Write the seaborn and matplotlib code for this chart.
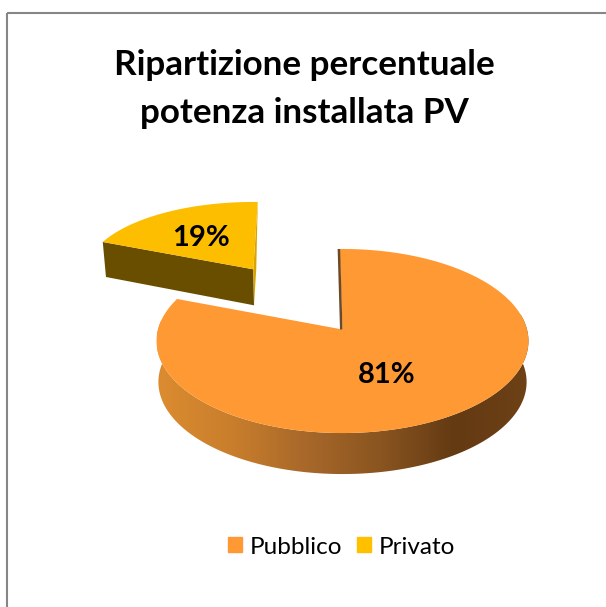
import numpy as np
import matplotlib
matplotlib.use("Agg")
import matplotlib.pyplot as plt
from matplotlib.patches import Patch, Polygon, Rectangle
import seaborn as sns

categories = ["Pubblico", "Privato"]
shares = [81, 19]
title_lines = ["Ripartizione percentuale", "potenza installata PV"]
top_colors = ["#FF9933", "#FDBE00"]

sns.set_theme(style="white")
plt.rcParams["font.family"] = ["Lato", "DejaVu Sans"]


def rim(theta, x0, y0, a, b, k):
    # perspective projection of a circle, theta is clockwise from the far side
    w = 1 + k * np.cos(theta)
    return x0 + a * np.sin(theta) / w, y0 - b * np.cos(theta) / w


def drop(x, y, x0, depth, shrink):
    return x0 + (x - x0) * shrink, y + depth


def wedge_top(ax, start, end, x0, y0, a, b, k, color, z):
    t = np.radians(np.linspace(start, end, 240))
    x, y = rim(t, x0, y0, a, b, k)
    ax.fill(np.r_[x0, x], np.r_[y0, y], color=color, lw=0, zorder=z)


fig, ax = plt.subplots(figsize=(6.06, 6.07), dpi=100)
fig.subplots_adjust(0, 0, 1, 1)

# big slice, starts a little left of the top and goes clockwise
big = dict(x0=342.5, y0=329.5, a=184.5, b=90.6, k=0.125)
big_start = -1
big_end = big_start + shares[0] * 3.6

t = np.radians(np.linspace(80, 276, 300))
x, y = rim(t, **big)
xb, yb = drop(x, y, big["x0"], 41, 0.99)
side = Polygon(np.c_[np.r_[x, xb[::-1]], np.r_[y, yb[::-1]]], transform=ax.transData, fc="none", ec="none")
ax.add_patch(side)
cmap = sns.blend_palette(["#DC8C30", "#C97E2C", "#A8682A", "#8A5520", "#643A13", "#6E4116"], as_cmap=True)
img = ax.imshow(np.linspace(0, 1, 256)[None, :], extent=(157, 529, 480, 240), cmap=cmap, aspect="auto", zorder=2)
img.set_clip_path(side)
wedge_top(ax, big_start, big_end, color=top_colors[0], z=3, **big)

# thin inner face next to the gap
xs, ys = rim(np.radians(big_start), **big)
ax.fill([xs - 2, xs + 0.5, big["x0"], big["x0"] - 2.5], [ys, ys, big["y0"], big["y0"]], color="#6B4A2A", lw=0, zorder=4)

# small slice, pulled out to the upper left
small = dict(x0=253.3, y0=269.3, a=167, b=70.7, k=0.05)
small_end = 1.6
small_start = small_end - shares[1] * 3.6

t = np.radians(np.linspace(small_start, small_end, 2))
xe, ye = rim(t, **small)
xl, yl = xe[0], ye[0]
front_x = [xl, small["x0"], small["x0"] + 0.7, xl + 3.2]
front_y = [yl, small["y0"], small["y0"] + 36, yl + 35]
ax.fill(front_x, front_y, color="#6A4E00", lw=0, zorder=5)
ax.fill([xe[1], xe[1] - 1.5, small["x0"] + 0.7, small["x0"]],
        [ye[1], small["y0"], small["y0"] + 36, small["y0"]], color="#D8A400", lw=0, zorder=5)
wedge_top(ax, small_start, small_end, color=top_colors[1], z=6, **small)

# value labels
ax.text(387, 375, f"{shares[0]}%", ha="center", va="center", fontsize=21, fontweight="bold", color="black", zorder=7)
ax.text(201, 238, f"{shares[1]}%", ha="center", va="center", fontsize=21, fontweight="bold", color="black", zorder=7)

# title
ax.text(304, 65, title_lines[0], ha="center", va="center", fontsize=25.2, fontweight="bold", color="black")
ax.text(304, 113, title_lines[1], ha="center", va="center", fontsize=25.2, fontweight="bold", color="black")

# chart frame runs off the right and bottom of the image
ax.add_patch(Rectangle((7, 13), 700, 700, fc="none", ec="#868686", lw=1.5, zorder=1))

handles = [Patch(color=c, label=n) for c, n in zip(["#FF9933", "#FFC000"], categories)]
ax.legend(handles=handles, ncol=2, loc="center", bbox_to_anchor=(341.5, 547), bbox_transform=ax.transData,
          frameon=False, fontsize=17.5, handlelength=0.58, handleheight=0.58, handletextpad=0.33,
          columnspacing=0.58, borderpad=0, labelcolor="black")

ax.set_xlim(0, 606)
ax.set_ylim(607, 0)
ax.axis("off")
fig.savefig("out.png", dpi=100, facecolor="white")
